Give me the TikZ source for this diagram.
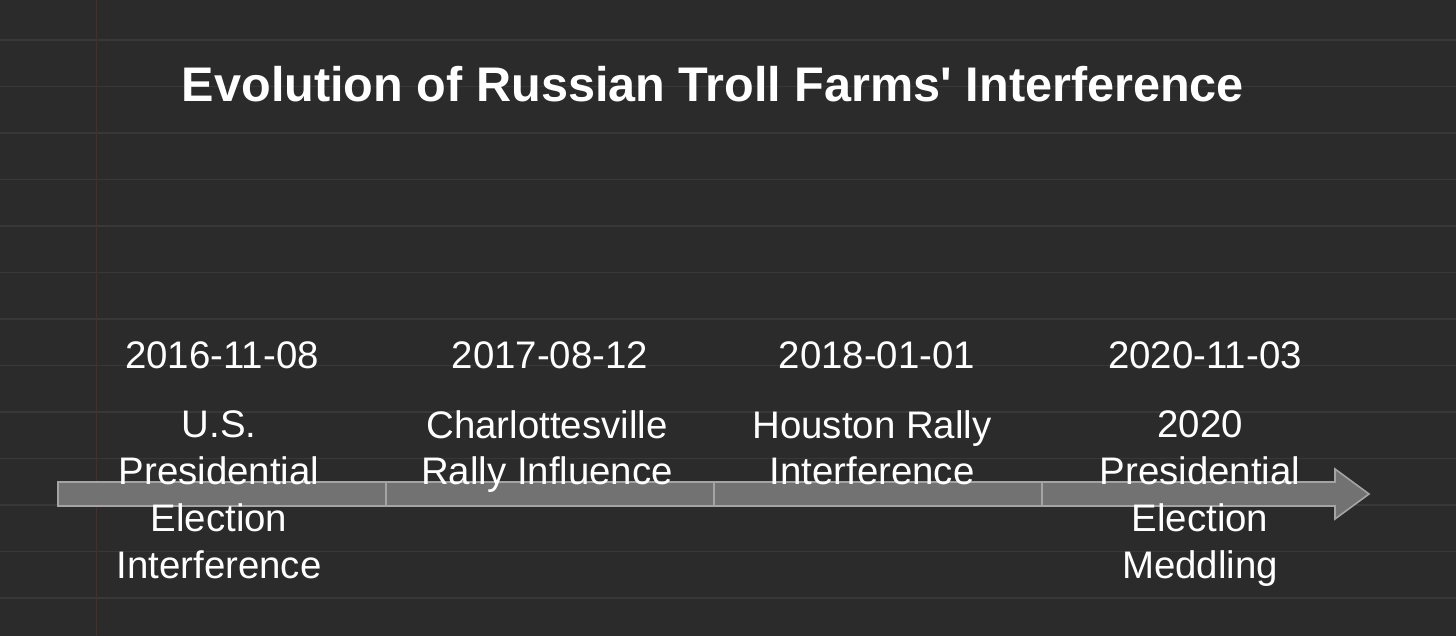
\documentclass[tikz,border=0pt]{standalone}
\usepackage{fontspec}
\setmainfont{Liberation Sans}
\definecolor{bgdark}{HTML}{2B2B2B}
\definecolor{ruleline}{HTML}{383838}
\definecolor{marginred}{HTML}{4E2C2C}
\definecolor{barfill}{HTML}{727272}
\definecolor{baredge}{HTML}{A4A4A4}
\tikzset{
	segbox/.style={fill=barfill,draw=baredge,line width=0.8pt},
	datelbl/.style={text=white,anchor=base,inner sep=0pt,font=\fontsize{19.2}{23.35}\selectfont},
	eventlbl/.style={text=white,anchor=base,inner sep=0pt,align=center,font=\fontsize{19.2}{23.35}\selectfont},
}
\begin{document}
\begin{tikzpicture}[x=0.5pt,y=-0.5pt]
	% paper
	\fill[bgdark] (0,0) rectangle (1456,636);
	\useasboundingbox (0,0) rectangle (1456,636);
	\foreach \y in {40,86.5,...,600}
		\draw[ruleline,line width=0.8pt] (0,\y) -- (1456,\y);
	\draw[marginred,line width=0.6pt] (96.5,0) -- (96.5,636);
	% title
	\node[text=white,anchor=base,inner sep=0pt,font=\fontsize{24.3}{29}\bfseries] (title) at (713,102) {Evolution of Russian Troll Farms\textquotesingle\ Interference};
	% timeline bar
	\foreach \x in {58,386,714}
		\draw[segbox] (\x,482) rectangle ++(328,24);
	\draw[segbox] (1042,482) -- (1335,482) -- (1335,469) -- (1369,494) -- (1335,519) -- (1335,506) -- (1042,506) -- cycle;
	% dates
	\node[datelbl] (d1) at (222,368) {2016-11-08};
	\node[datelbl] (d2) at (550,368) {2017-08-12};
	\node[datelbl] (d3) at (877,368) {2018-01-01};
	\node[datelbl] (d4) at (1205,368) {2020-11-03};
	% events (base = last line)
	\node[eventlbl] (e1) at (219,578) {U.S.\\Presidential\\Election\\Interference};
	\node[eventlbl] (e2) at (547,484.7) {Charlottesville\\Rally Influence};
	\node[eventlbl] (e3) at (872,484.7) {Houston Rally\\Interference};
	\node[eventlbl] (e4) at (1200,578) {2020\\Presidential\\Election\\Meddling};
\end{tikzpicture}
\end{document}
